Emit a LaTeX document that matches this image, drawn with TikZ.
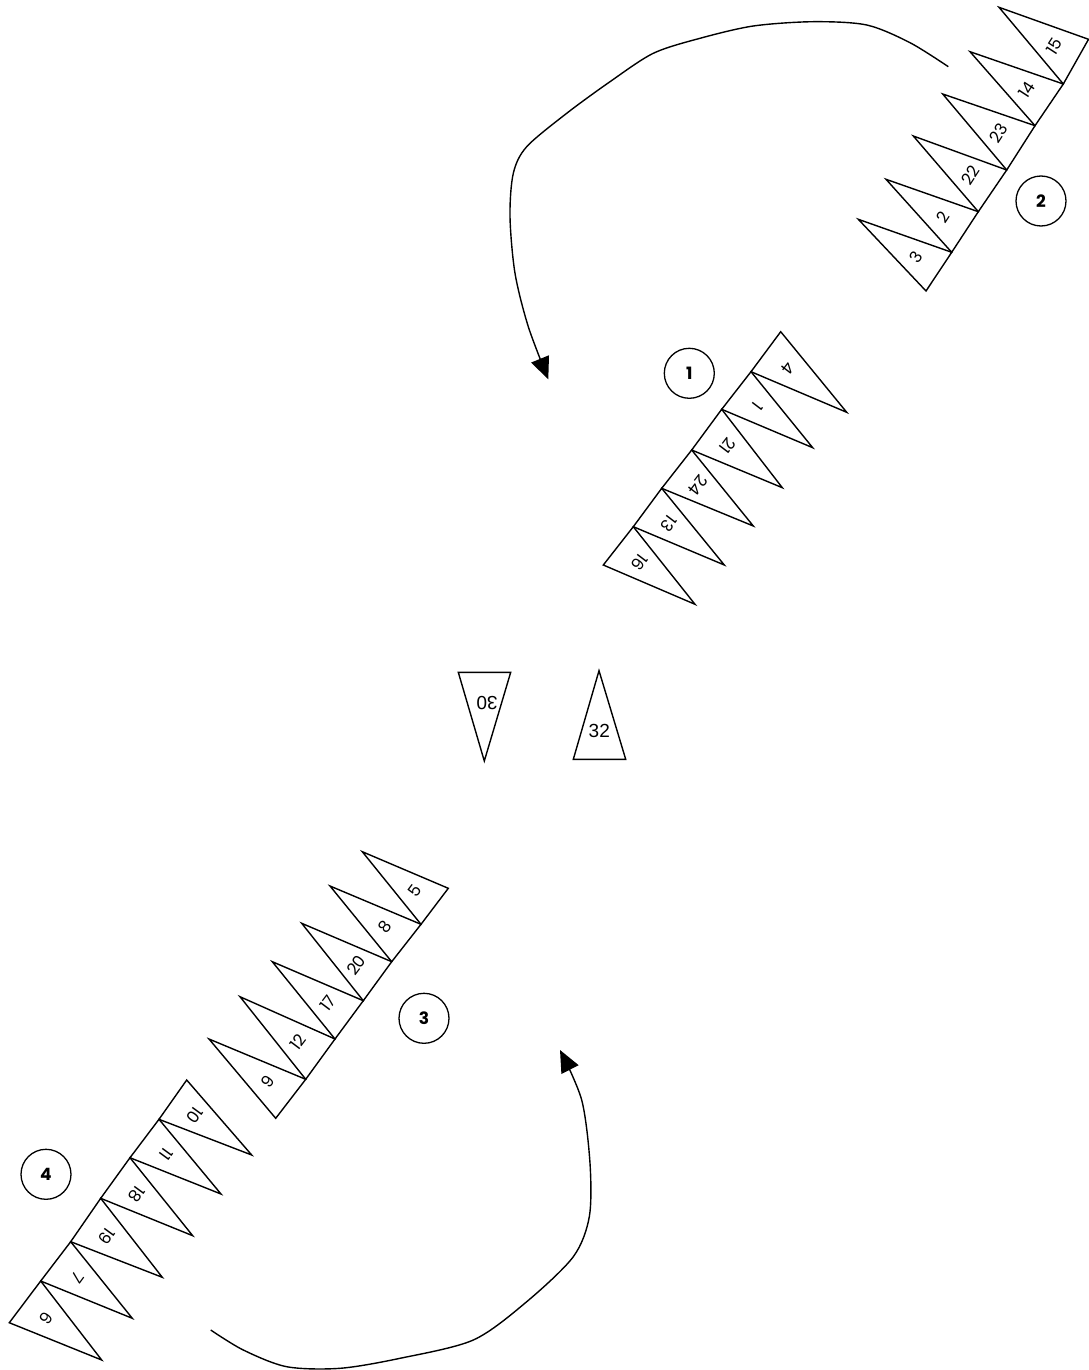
\documentclass[tikz,border=0pt]{standalone}
\usepackage{fontspec}
\setmainfont{Poppins}
\newfontfamily\arialf{Liberation Sans}
\usetikzlibrary{calc,arrows.meta}
\tikzset{
  tri/.style={draw=black, line width=1.4pt, line join=miter},
  lbl/.style={inner sep=0pt, font=\fontsize{16.5}{18}\selectfont},
  grp/.style={draw=black, circle, line width=1.3pt, minimum size=50pt, inner sep=0pt, font=\fontsize{17}{19}\selectfont\bfseries},
  flow/.style={draw=black, line width=1.4pt, -{Triangle[length=22pt,width=19pt]}}
}
\newcommand\tri[6]{%
  \draw[tri] (#1) -- (#3) -- (#2) -- cycle;
  \node[lbl, rotate=#5] (#6) at ($($(#1)!0.5!(#2)$)!0.28!(#3)$) {#4};
}
\begin{document}
\begin{tikzpicture}[x=1pt,y=-1pt]
\useasboundingbox (0,0) rectangle (1089,1370);
% group 2
\tri{926,291}{951.7,252.3}{858.3,219.3}{3}{57}{t3}
\tri{951.7,252.3}{978.3,211.7}{886,179.3}{2}{57}{t2}
\tri{978.3,211.7}{1006.7,170}{913.3,136}{22}{57}{t22}
\tri{1006.7,170}{1035,125.7}{942.7,94}{23}{57}{t23}
\tri{1035,125.7}{1063.3,84}{970,51.7}{14}{57}{t14}
\tri{1063.3,84}{1088.5,39.3}{999,7.3}{15}{57}{t15}
% group 1
\tri{603.3,565}{633.3,526.7}{695,604.3}{16}{232.7}{t16}
\tri{633.3,526.7}{661.7,488.3}{724.3,565}{13}{232.7}{t13}
\tri{661.7,488.3}{691.7,450}{753.3,526}{24}{232.7}{t24}
\tri{691.7,450}{721.7,409.3}{782.3,487.7}{21}{232.7}{t21}
\tri{721.7,409.3}{751,371.7}{812.7,447.7}{1}{232.7}{t1}
\tri{751,371.7}{780.7,331.7}{846.7,412.3}{4}{232.7}{t4}
% group 3
\tri{275.7,1118.3}{305.7,1079.3}{209,1039}{9}{53}{t9}
\tri{305.7,1079.3}{335,1039}{240,996.7}{12}{53}{t12}
\tri{335,1039}{363.3,1000.7}{272.3,961.7}{17}{53}{t17}
\tri{363.3,1000.7}{391.7,961.7}{301.7,923.3}{20}{53}{t20}
\tri{391.7,961.7}{421,924.3}{330,886}{8}{53}{t8}
\tri{421,924.3}{448.3,888.3}{362.3,851.7}{5}{53}{t5}
% group 4
\tri{9.3,1322.7}{40.7,1281}{101.7,1360}{6}{233.8}{t6}
\tri{40.7,1281}{70.7,1241.7}{132.3,1318.3}{7}{233.8}{t7}
\tri{70.7,1241.7}{100.7,1198.3}{162.3,1277.3}{19}{233.8}{t19}
\tri{100.7,1198.3}{130,1157.7}{192.7,1235.7}{18}{233.8}{t18}
\tri{130,1157.7}{159,1119.3}{221,1194}{11}{233.8}{t11}
\tri{159,1119.3}{186.7,1080}{251.7,1155}{10}{233.8}{t10}
% group circles
\node[grp] (g1) at (689.3,373.3) {1};
\node[grp] (g2) at (1041,201) {2};
\node[grp] (g3) at (424,1018.3) {3};
\node[grp] (g4) at (46,1174.3) {4};
% single triangles
\draw[tri] (458.3,672.3) -- (510.7,672.3) -- (484.3,761) -- cycle;
\node[inner sep=0pt, rotate=180, font=\arialf\fontsize{19}{21}\selectfont] (t30) at (487,703) {30};
\draw[tri] (599,670.7) -- (625.7,759.3) -- (573.3,759.3) -- cycle;
\node[inner sep=0pt, font=\arialf\fontsize{19}{21}\selectfont] (t32) at (599.3,731) {32};
% flows
\coordinate (a1s) at (948.3,66.7);
\coordinate (a1e) at (548.3,379.3);
\draw[flow] plot[smooth, tension=0.5] coordinates {(a1s) (910,42.7) (866.7,25) (813.3,21.7) (753.3,26) (700,38.3) (653.3,53.3) (610,81.7) (566.7,113.3) (526.7,146.7) (513.3,173.3) (510,216.7) (515,273.3) (528.3,326.7) (a1e)};
\coordinate (a2s) at (210.7,1330);
\coordinate (a2e) at (560,1050);
\draw[flow] plot[smooth, tension=0.5] coordinates {(a2s) (243.3,1350) (286.7,1366.7) (340,1368.3) (400,1358.3) (473.3,1340) (526.7,1301.7) (573.3,1256.7) (589.3,1216.7) (590,1163.3) (581.7,1100) (a2e)};
\end{tikzpicture}
\end{document}
